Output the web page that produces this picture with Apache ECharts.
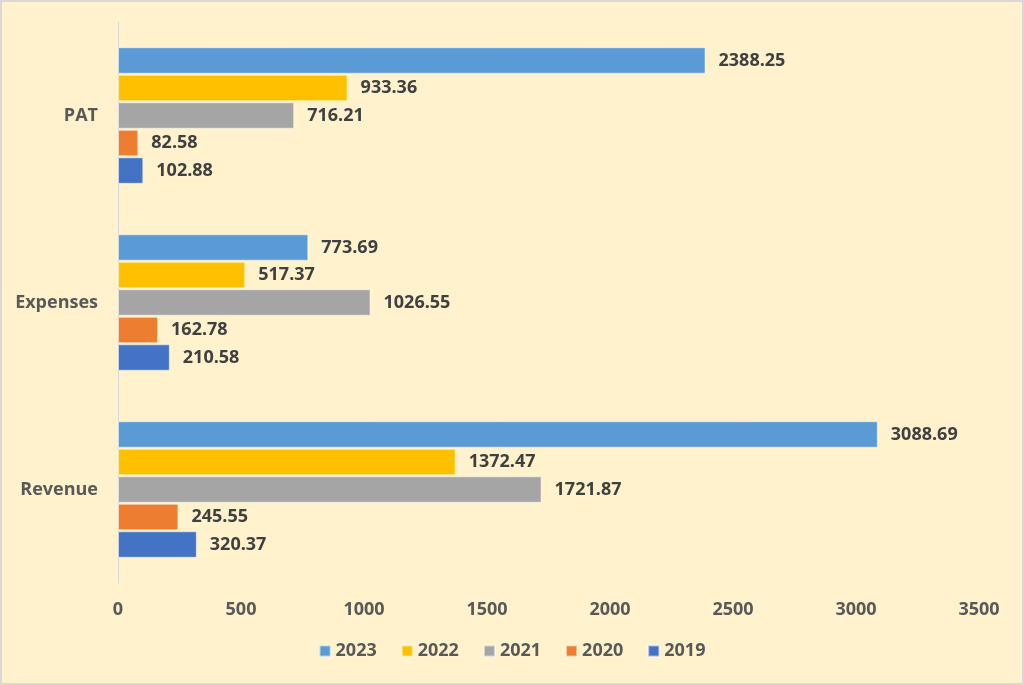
<!DOCTYPE html>
<html>
<head>
<meta charset="utf-8">
<script src="https://cdn.jsdelivr.net/npm/echarts@6/dist/echarts.min.js"></script>
<style>
  html, body { margin: 0; padding: 0; background: #fff; }
  #chart { width: 1020px; height: 681px; border: 2px solid #d9d9d9; background: #fff2cc; }
</style>
</head>
<body>
<div id="chart"></div>
<script>
var categories = ['Revenue', 'Expenses', 'PAT'];
var years = ['2023', '2022', '2021', '2020', '2019'];
var values2023 = [3088.69, 773.69, 2388.25];
var values2022 = [1372.47, 517.37, 933.36];
var values2021 = [1721.87, 1026.55, 716.21];
var values2020 = [245.55, 162.78, 82.58];
var values2019 = [320.37, 210.58, 102.88];
var colors = ['#5b9bd5', '#ffc000', '#a5a5a5', '#ed7d31', '#4472c4'];

var allValues = [values2023, values2022, values2021, values2020, values2019];
var font = '"Open Sans", "Liberation Sans", sans-serif';

// first series is drawn at the top of each band
var series = years.map(function (y, i) {
    return {
        name: y,
        type: 'bar',
        data: allValues[i],
        barGap: '4%',
        barCategoryGap: '27%',
        itemStyle: { color: colors[i], borderColor: 'rgba(255,255,255,0.5)', borderWidth: 1 },
        label: {
            show: true,
            position: 'right',
            distance: 13,
            color: '#404040',
            fontWeight: 'bold',
            fontSize: 18,
            fontFamily: font
        }
    };
});

var chart = echarts.init(document.getElementById('chart'));
chart.setOption({
    backgroundColor: '#fff2cc',
    animation: false,
    grid: { left: 116, right: 43, top: 20, bottom: 100 },
    legend: {
        data: years,
        bottom: 18,
        left: 'center',
        itemWidth: 11,
        itemHeight: 11,
        itemGap: 24,
        icon: 'rect',
        textStyle: { color: '#595959', fontWeight: 'bold', fontSize: 18, fontFamily: font }
    },
    xAxis: {
        type: 'value',
        min: 0,
        max: 3500,
        interval: 500,
        axisLine: { show: false },
        axisTick: { show: false },
        splitLine: { show: false },
        axisLabel: {
            color: '#595959', fontWeight: 'bold', fontSize: 18, fontFamily: font, margin: 18,
            formatter: function (v) { return String(v); }
        }
    },
    yAxis: {
        type: 'category',
        data: categories,
        axisLine: { show: true, lineStyle: { color: '#d9d9d9' } },
        axisTick: { show: false },
        axisLabel: { color: '#595959', fontWeight: 'bold', fontSize: 18, fontFamily: font, margin: 20 }
    },
    series: series
});
</script>
</body>
</html>
